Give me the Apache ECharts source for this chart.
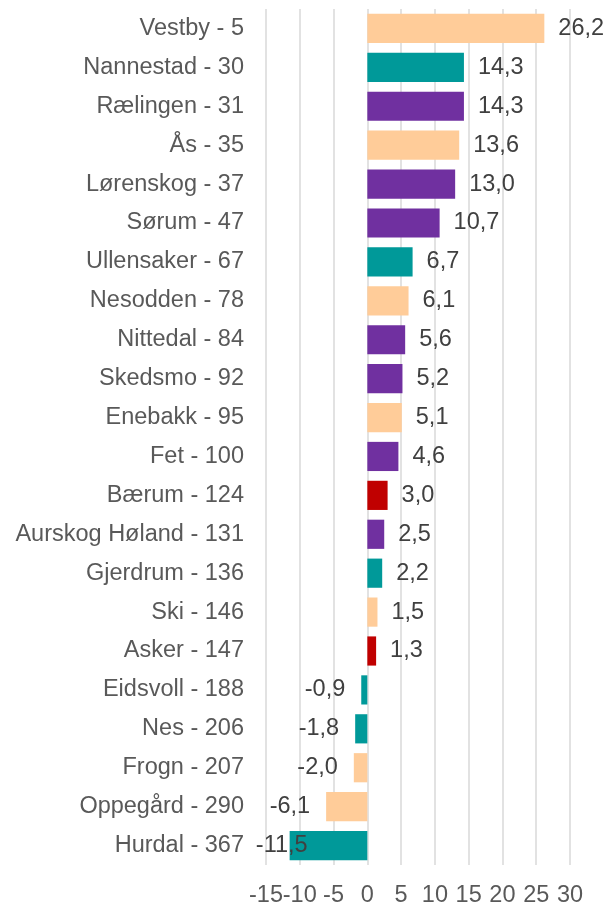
<!DOCTYPE html>
<html>
<head>
<meta charset="utf-8">
<script src="https://cdn.jsdelivr.net/npm/echarts@6/dist/echarts.min.js"></script>
<style>
  html, body { margin: 0; padding: 0; background: #fff; }
  #chart { width: 606px; height: 902px; }
</style>
</head>
<body>
<div id="chart"></div>
<script>
// kommuner, verdier og region (bestemmer farge)
var categories = [
  "Vestby - 5", "Nannestad - 30", "Rælingen - 31", "Ås - 35", "Lørenskog - 37",
  "Sørum - 47", "Ullensaker - 67", "Nesodden - 78", "Nittedal - 84", "Skedsmo - 92",
  "Enebakk - 95", "Fet - 100", "Bærum - 124", "Aurskog Høland - 131", "Gjerdrum - 136",
  "Ski - 146", "Asker - 147", "Eidsvoll - 188", "Nes - 206", "Frogn - 207",
  "Oppegård - 290", "Hurdal - 367"
];
var values = [
  26.2, 14.3, 14.3, 13.6, 13.0,
  10.7, 6.7, 6.1, 5.6, 5.2,
  5.1, 4.6, 3.0, 2.5, 2.2,
  1.5, 1.3, -0.9, -1.8, -2.0,
  -6.1, -11.5
];
var regions = [
  "Follo", "Øvre Romerike", "Nedre Romerike", "Follo", "Nedre Romerike",
  "Nedre Romerike", "Øvre Romerike", "Follo", "Nedre Romerike", "Nedre Romerike",
  "Follo", "Nedre Romerike", "Asker og Bærum", "Nedre Romerike", "Øvre Romerike",
  "Follo", "Asker og Bærum", "Øvre Romerike", "Øvre Romerike", "Follo",
  "Follo", "Øvre Romerike"
];
var xTicks = [-15, -10, -5, 0, 5, 10, 15, 20, 25, 30];

var regionColors = {
  "Follo": "#FFCC99",
  "Øvre Romerike": "#009999",
  "Nedre Romerike": "#7030A0",
  "Asker og Bærum": "#C00000"
};

var font = "Liberation Sans, Arial, sans-serif";

function fmt(v) {
  return v.toFixed(1).replace(".", ",");
}

var barData = values.map(function (v, i) {
  var item = {
    value: v,
    itemStyle: { color: regionColors[regions[i]] },
    label: {
      position: v < 0 ? "left" : "right",
      distance: v < 0 ? 16 : 14
    }
  };
  // etiketten skyves inn i plottet når den ellers havner utenfor
  if (v < -10) item.label.offset = [34, 0];
  return item;
});

var chart = echarts.init(document.getElementById("chart"));
chart.setOption({
  animation: false,
  grid: { left: 266, right: 36, top: 9, bottom: 37, outerBoundsMode: "none" },
  xAxis: {
    type: "value",
    min: xTicks[0],
    max: xTicks[xTicks.length - 1],
    interval: 5,
    axisLine: { show: false },
    axisTick: { show: false },
    axisLabel: {
      color: "#595959",
      fontSize: 23.5,
      fontFamily: font,
      margin: 19
    },
    splitLine: { show: true, lineStyle: { color: "#d9d9d9", width: 1.5 } }
  },
  yAxis: {
    type: "category",
    inverse: true,
    data: categories,
    axisLine: { show: false },
    axisTick: { show: false },
    axisLabel: {
      color: "#595959",
      fontSize: 23.5,
      fontFamily: font,
      margin: 22
    }
  },
  series: [
    {
      type: "bar",
      data: barData,
      barCategoryGap: "25%",
      label: {
        show: true,
        color: "#404040",
        fontSize: 23.5,
        fontFamily: font,
        formatter: function (p) { return fmt(p.value); }
      }
    }
  ]
});
</script>
</body>
</html>
